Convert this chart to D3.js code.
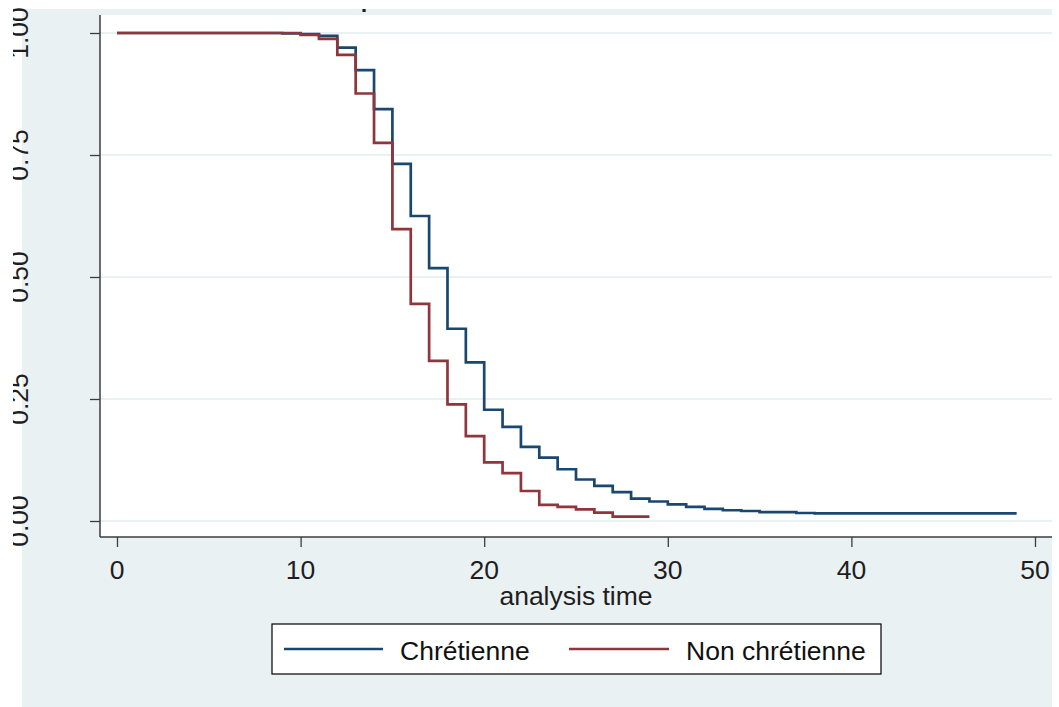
<!DOCTYPE html>
<html>
<head>
<meta charset="utf-8">
<script src="https://cdn.jsdelivr.net/npm/d3@7"></script>
<style>
  html, body { margin: 0; padding: 0; background: #ffffff; }
  svg { display: block; font-family: "Liberation Sans", Arial, sans-serif; }
</style>
</head>
<body>
<svg id="chart" width="1059" height="707"></svg>
<script>
// ---- data ----
const seriesNames = ["Chrétienne", "Non chrétienne"];
const chretTimes  = [0, 9, 10, 11, 12, 13, 14, 15, 16, 17, 18, 19, 20, 21, 22, 23, 24, 25, 26, 27, 28, 29, 30, 31, 32, 33, 34, 35, 37, 38, 49];
const chretSurv   = [1.0, 0.999, 0.998, 0.994, 0.970, 0.924, 0.844, 0.732, 0.625, 0.518, 0.394, 0.325, 0.228, 0.193, 0.152, 0.130, 0.106, 0.085, 0.072, 0.059, 0.046, 0.040, 0.034, 0.029, 0.025, 0.022, 0.0205, 0.018, 0.0164, 0.0157, 0.0157];
const nonTimes    = [0, 10, 11, 12, 13, 14, 15, 16, 17, 18, 19, 20, 21, 22, 23, 24, 25, 26, 27, 29];
const nonSurv     = [1.0, 0.996, 0.988, 0.955, 0.876, 0.775, 0.598, 0.445, 0.328, 0.239, 0.174, 0.120, 0.098, 0.0615, 0.033, 0.029, 0.024, 0.017, 0.009, 0.009];
const xTicks = [0, 10, 20, 30, 40, 50];
const yTicks = [0, 0.25, 0.5, 0.75, 1];
const xTitle = "analysis time";
const chartTitle = "Kaplan-Meier survival estimates";

// ---- layout ----
const W = 1059, H = 707;
const bg = { x: 22, y: 9, w: 1030, h: 698 };
const plot = { x0: 100, x1: 1052, y0: 15, y1: 537 };
const colors = ["#1a476f", "#90353b"];
const bgColor = "#eaf1f3";
const fs = 26.5;

const svg = d3.select("#chart");
const defs = svg.append("defs");
defs.append("clipPath").attr("id", "bgclip").append("rect")
  .attr("x", bg.x).attr("y", bg.y).attr("width", bg.w).attr("height", bg.h);
defs.append("clipPath").attr("id", "plotclip").append("rect")
  .attr("x", plot.x0).attr("y", plot.y0).attr("width", plot.x1 - plot.x0).attr("height", plot.y1 - plot.y0);
defs.append("clipPath").attr("id", "ylabclip").append("rect")
  .attr("x", 13).attr("y", 0).attr("width", W).attr("height", H);

// graph region background
svg.append("rect").attr("x", bg.x).attr("y", bg.y).attr("width", bg.w).attr("height", bg.h).attr("fill", bgColor);

// title (mostly cropped away)
svg.append("g").attr("clip-path", "url(#bgclip)")
  .append("text").attr("x", 316).attr("y", 3.5)
  .attr("font-size", 36).attr("fill", "#1e1e1e").text(chartTitle);

// plot region
svg.append("rect").attr("x", plot.x0).attr("y", plot.y0)
  .attr("width", plot.x1 - plot.x0).attr("height", plot.y1 - plot.y0).attr("fill", "#ffffff");

const x = d3.scaleLinear().domain([0, 50]).range([117, 1035]);
const y = d3.scaleLinear().domain([0, 1]).range([521, 33]);

// gridlines
svg.append("g").attr("clip-path", "url(#plotclip)")
  .selectAll("line").data(yTicks).join("line")
  .attr("x1", plot.x0).attr("x2", plot.x1)
  .attr("y1", d => y(d)).attr("y2", d => y(d))
  .attr("stroke", bgColor).attr("stroke-width", 2);

// survival curves
const line = d3.line().x(d => x(d[0])).y(d => y(d[1])).curve(d3.curveStepAfter);
const series = [
  d3.zip(chretTimes, chretSurv),
  d3.zip(nonTimes, nonSurv)
];
svg.append("g").attr("clip-path", "url(#plotclip)")
  .selectAll("path").data(series).join("path")
  .attr("d", line)
  .attr("fill", "none")
  .attr("stroke", (d, i) => colors[i])
  .attr("stroke-width", 2.7)
  .attr("stroke-linejoin", "miter");

// axes
const yAxis = svg.append("g").attr("transform", `translate(${plot.x0},0)`)
  .call(d3.axisLeft(y).tickValues(yTicks).tickSize(10).tickSizeOuter(0).tickFormat(""));
yAxis.select(".domain").attr("d", `M0,${plot.y0}V${plot.y1}`);
const xAxis = svg.append("g").attr("transform", `translate(0,${plot.y1})`)
  .call(d3.axisBottom(x).tickValues(xTicks).tickSize(10).tickSizeOuter(0).tickFormat(""));
xAxis.select(".domain").attr("d", `M${plot.x0},0H${plot.x1}`);
svg.selectAll(".domain").attr("stroke", "#3c3c3c").attr("stroke-width", 1.5);
svg.selectAll(".tick line").attr("stroke", "#3c3c3c").attr("stroke-width", 1.3);

// y tick labels (rotated)
svg.append("g").attr("clip-path", "url(#ylabclip)")
  .selectAll("text").data(yTicks).join("text")
  .attr("transform", d => `translate(28,${y(d)}) rotate(-90)`)
  .attr("text-anchor", "middle")
  .attr("font-size", fs).attr("fill", "#1e1e1e")
  .text(d3.format(".2f"));

// x tick labels
svg.append("g").selectAll("text").data(xTicks).join("text")
  .attr("x", d => x(d)).attr("y", 579)
  .attr("text-anchor", "middle")
  .attr("font-size", fs).attr("fill", "#1e1e1e")
  .text(d => d);

// x title
svg.append("text").attr("x", (plot.x0 + plot.x1) / 2).attr("y", 605)
  .attr("text-anchor", "middle").attr("font-size", fs).attr("fill", "#1e1e1e")
  .text(xTitle);

// legend
const lg = svg.append("g");
lg.append("rect").attr("x", 272).attr("y", 624).attr("width", 609).attr("height", 50)
  .attr("fill", "#ffffff").attr("stroke", "#000000").attr("stroke-width", 1.2);
const legendItems = [
  { x1: 284, x2: 383, tx: 400 },
  { x1: 569, x2: 669, tx: 686 }
];
legendItems.forEach((it, i) => {
  lg.append("line").attr("x1", it.x1).attr("x2", it.x2).attr("y1", 649).attr("y2", 649)
    .attr("stroke", colors[i]).attr("stroke-width", 2.7);
  lg.append("text").attr("x", it.tx).attr("y", 660)
    .attr("font-size", fs).attr("fill", "#111111").text(seriesNames[i]);
});
</script>
</body>
</html>
